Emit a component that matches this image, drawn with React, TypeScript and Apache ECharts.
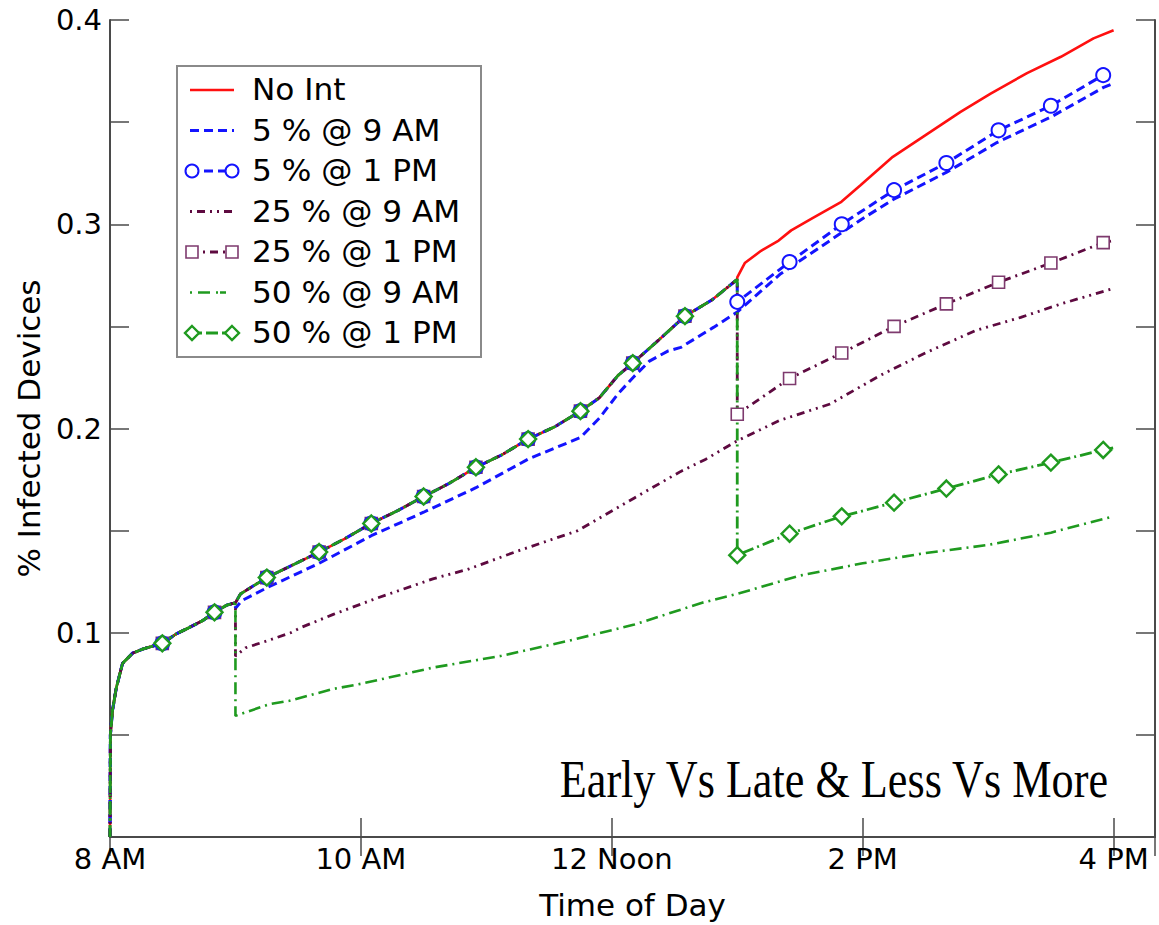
import React, { useEffect, useRef } from 'react';
import * as echarts from 'echarts';

// ---------- axis ticks ----------
const xTickValues = [8, 10, 12, 14, 16];
const xTickLabels = ['8 AM', '10 AM', '12 Noon', '2 PM', '4 PM'];
const yTickValues = [0.1, 0.2, 0.3, 0.4];
const yTickLabels = ['0.1', '0.2', '0.3', '0.4'];

const seriesNames = ['No Int', '5 % @ 9 AM', '5 % @ 1 PM', '25 % @ 9 AM', '25 % @ 1 PM', '50 % @ 9 AM', '50 % @ 1 PM'];

// ---------- data (hours of day, fraction infected) ----------
// shared trajectory before any intervention (8 AM -> 1 PM)
const commonTimes = [8.0, 8.003, 8.02, 8.05, 8.1, 8.18, 8.26, 8.37, 8.417, 8.53, 8.63, 8.74, 8.833, 8.93, 9.0, 9.04, 9.25, 9.45, 9.667, 9.87, 10.083, 10.3, 10.5, 10.7, 10.917, 11.12, 11.333, 11.55, 11.75, 11.9, 12.05, 12.167, 12.35, 12.583, 12.8, 13.0];
const commonValues = [0, 0.05, 0.062, 0.073, 0.085, 0.09, 0.092, 0.094, 0.0948, 0.0995, 0.1025, 0.106, 0.11, 0.1135, 0.1147, 0.119, 0.127, 0.133, 0.1395, 0.146, 0.1535, 0.16, 0.1667, 0.173, 0.181, 0.187, 0.1948, 0.201, 0.2085, 0.215, 0.226, 0.232, 0.242, 0.255, 0.263, 0.273];

// No intervention, after 1 PM
const noIntTimes = [13.0, 13.06, 13.19, 13.33, 13.43, 13.6, 13.83, 13.98, 14.24, 14.51, 14.78, 15.02, 15.31, 15.58, 15.84, 16.0];
const noIntValues = [0.274, 0.281, 0.287, 0.292, 0.297, 0.303, 0.311, 0.319, 0.333, 0.344, 0.355, 0.364, 0.374, 0.382, 0.391, 0.395];

// 5 % @ 9 AM, from 9 AM
const fiveNineTimes = [9.0, 9.05, 9.25, 9.667, 10.083, 10.5, 10.917, 11.333, 11.75, 11.9, 12.05, 12.17, 12.3, 12.45, 12.55, 12.81, 13.0, 13.34, 13.98, 14.24, 14.67, 15.07, 15.5, 15.92, 16.0];
const fiveNineValues = [0.112, 0.1157, 0.122, 0.134, 0.1475, 0.159, 0.171, 0.185, 0.1956, 0.205, 0.217, 0.225, 0.233, 0.238, 0.2397, 0.2495, 0.257, 0.2755, 0.302, 0.312, 0.3255, 0.34, 0.3525, 0.367, 0.369];

// 5 % @ 1 PM, from 1 PM
const fiveOneTimes = [13.0, 13.417, 13.833, 14.25, 14.667, 15.083, 15.5, 15.917, 16.0];
const fiveOneValues = [0.262, 0.2815, 0.3, 0.3167, 0.33, 0.346, 0.358, 0.373, 0.374];

// 25 % @ 9 AM, from 9 AM
const quarterNineTimes = [9.0, 9.08, 9.25, 9.44, 9.52, 9.78, 10.13, 10.58, 10.85, 11.25, 11.73, 12.18, 12.45, 12.55, 12.75, 13.0, 13.34, 13.74, 14.14, 14.5, 14.9, 15.26, 15.58, 16.0];
const quarterNineValues = [0.0885, 0.0926, 0.096, 0.1, 0.1025, 0.109, 0.117, 0.1265, 0.131, 0.14, 0.15, 0.166, 0.1755, 0.179, 0.185, 0.194, 0.204, 0.212, 0.226, 0.237, 0.248, 0.2544, 0.261, 0.2686];

// 25 % @ 1 PM, from 1 PM
const quarterOneTimes = [13.0, 13.417, 13.833, 14.25, 14.667, 15.083, 15.5, 15.917, 16.0];
const quarterOneValues = [0.207, 0.2245, 0.237, 0.25, 0.261, 0.2716, 0.281, 0.291, 0.292];

// 50 % @ 9 AM, from 9 AM
const halfNineTimes = [9.0, 9.08, 9.27, 9.43, 9.78, 10.0, 10.58, 11.12, 11.65, 12.18, 12.72, 13.0, 13.5, 14.0, 14.5, 15.0, 15.5, 16.0];
const halfNineValues = [0.0593, 0.061, 0.065, 0.0667, 0.0725, 0.075, 0.083, 0.0887, 0.096, 0.104, 0.1147, 0.119, 0.128, 0.134, 0.139, 0.143, 0.149, 0.157];

// 50 % @ 1 PM, from 1 PM
const halfOneTimes = [13.0, 13.417, 13.833, 14.25, 14.667, 15.083, 15.5, 15.917, 16.0];
const halfOneValues = [0.138, 0.1485, 0.157, 0.1637, 0.1706, 0.1775, 0.1833, 0.1895, 0.1905];

// marker times (every 25 minutes)
const markerTimes = [8.417, 8.833, 9.25, 9.667, 10.083, 10.5, 10.917, 11.333, 11.75, 12.167, 12.583, 13.0, 13.417, 13.833, 14.25, 14.667, 15.083, 15.5, 15.917];

// ---------- helpers ----------
const zip = (t: number[], v: number[]) => t.map((x, i) => [x, v[i]]);
const common = zip(commonTimes, commonValues);
const commonUntil9 = common.filter((p) => p[0] <= 9.0 + 1e-9);

const dataSets: number[][][] = [
  [...common, ...zip(noIntTimes, noIntValues)],
  [...commonUntil9, ...zip(fiveNineTimes, fiveNineValues)],
  [...common, ...zip(fiveOneTimes, fiveOneValues)],
  [...commonUntil9, ...zip(quarterNineTimes, quarterNineValues)],
  [...common, ...zip(quarterOneTimes, quarterOneValues)],
  [...commonUntil9, ...zip(halfNineTimes, halfNineValues)],
  [...common, ...zip(halfOneTimes, halfOneValues)],
];

function pickMarkers(data: number[][]) {
  const out: number[][] = [];
  markerTimes.forEach((mt) => {
    let found: number[] | null = null;
    data.forEach((p) => {
      if (Math.abs(p[0] - mt) < 0.005) found = p;
    });
    if (found) out.push(found);
  });
  return out;
}

const RED = '#ff1010';
const BLUE = '#1414ff';
const PURPLE = '#5e0a40';
const PURPLE_MK = '#7e3a6e';
const GREEN = '#1f9a1f';

const styles = [
  { color: RED, width: 2.6, type: 'solid' as any },
  { color: BLUE, width: 3, type: [9, 5] as any },
  { color: BLUE, width: 3, type: [9, 5] as any },
  { color: PURPLE, width: 2.8, type: [8, 5, 2, 5, 2, 5] as any },
  { color: PURPLE, width: 2.8, type: [8, 5, 2, 5] as any },
  { color: GREEN, width: 2.6, type: [12, 5, 2, 5] as any },
  { color: GREEN, width: 2.8, type: [12, 4, 2, 4] as any },
];

const markerDefs: Record<number, { symbol: string; size: number; color: string; bw: number; z: number }> = {
  2: { symbol: 'circle', size: 14, color: BLUE, bw: 2, z: 11 },
  4: { symbol: 'rect', size: 12, color: PURPLE_MK, bw: 1.6, z: 10 },
  6: { symbol: 'diamond', size: 16, color: GREEN, bw: 2.4, z: 12 },
};

const FONT = 'DejaVu Sans';

function buildOption() {
  const series: any[] = [];
  dataSets.forEach((d, i) => {
    series.push({
      type: 'line',
      name: seriesNames[i],
      data: d,
      showSymbol: false,
      symbol: 'none',
      lineStyle: { color: styles[i].color, width: styles[i].width, type: styles[i].type },
      z: 2 + i * 0.1,
      silent: true,
    });
  });
  Object.keys(markerDefs).forEach((k) => {
    const i = Number(k);
    const m = markerDefs[i];
    series.push({
      type: 'scatter',
      name: seriesNames[i] + ' markers',
      data: pickMarkers(dataSets[i]),
      symbol: m.symbol,
      symbolSize: m.size,
      itemStyle: { color: '#ffffff', borderColor: m.color, borderWidth: m.bw, opacity: 1 },
      z: m.z,
      silent: true,
    });
  });

  const xFmt = (v: number) => {
    const i = xTickValues.findIndex((t) => Math.abs(t - v) < 1e-6);
    return i >= 0 ? xTickLabels[i] : '';
  };
  const yFmt = (v: number) => {
    const i = yTickValues.findIndex((t) => Math.abs(t - v) < 1e-6);
    return i >= 0 ? yTickLabels[i] : '';
  };

  const axisLine = { show: true, lineStyle: { color: '#4a4a4a', width: 2 } };
  const axisTick = { show: true, inside: true, length: 19, lineStyle: { color: '#4a4a4a', width: 1.5 } };

  // legend graphics
  const legendChildren: any[] = [
    {
      type: 'rect',
      shape: { x: 177, y: 66, width: 304, height: 291 },
      style: { fill: '#ffffff', stroke: '#8a8a8a', lineWidth: 2 },
    },
  ];
  const legendDash: any[] = [null, [9, 5], [9, 5], [2, 5, 8, 5, 2, 5], [8, 5, 2, 5], [2, 6, 12, 6, 2], [12, 4]];
  seriesNames.forEach((name, i) => {
    const y = 90 + i * 40.5;
    legendChildren.push({
      type: 'line',
      shape: { x1: 190, y1: y, x2: 234, y2: y },
      style: { stroke: styles[i].color, lineWidth: styles[i].width, lineDash: legendDash[i] || undefined },
    });
    const m = markerDefs[i];
    if (m) {
      [192, 232].forEach((cx) => {
        if (m.symbol === 'circle') {
          legendChildren.push({ type: 'circle', shape: { cx, cy: y, r: 6.5 }, style: { fill: '#fff', stroke: m.color, lineWidth: m.bw } });
        } else if (m.symbol === 'rect') {
          legendChildren.push({ type: 'rect', shape: { x: cx - 6, y: y - 6, width: 12, height: 12 }, style: { fill: '#fff', stroke: m.color, lineWidth: m.bw } });
        } else {
          legendChildren.push({
            type: 'polygon',
            shape: { points: [[cx, y - 7], [cx + 7, y], [cx, y + 7], [cx - 7, y]] },
            style: { fill: '#fff', stroke: m.color, lineWidth: m.bw },
          });
        }
      });
    }
    legendChildren.push({
      type: 'text',
      x: 252,
      y,
      scaleX: 1.04,
      style: { text: name, x: 0, y: 0, fill: '#000', fontSize: 30, fontFamily: FONT, verticalAlign: 'middle', align: 'left' },
    });
  });

  return {
    animation: false,
    backgroundColor: '#ffffff',
    grid: { left: 110, right: 4, top: 20, bottom: 88, containLabel: false },
    xAxis: [
      {
        type: 'value',
        position: 'bottom',
        min: 8,
        max: 16.33,
        interval: 2,
        splitLine: { show: false },
        axisLine,
        axisTick,
        axisLabel: { formatter: xFmt, fontSize: 29, fontFamily: FONT, color: '#000', margin: 7, showMaxLabel: false },
        name: 'Time of Day',
        nameLocation: 'middle',
        nameGap: 52,
        nameTextStyle: { fontSize: 31, fontFamily: FONT, color: '#000' },
      },
      {
        type: 'value',
        position: 'top',
        min: 8,
        max: 16.33,
        interval: 2,
        splitLine: { show: false },
        axisLine,
        axisTick,
        axisLabel: { show: false },
      },
    ],
    yAxis: [
      {
        type: 'value',
        position: 'left',
        min: 0,
        max: 0.4,
        interval: 0.05,
        splitLine: { show: false },
        axisLine,
        axisTick,
        axisLabel: { formatter: yFmt, fontSize: 29, fontFamily: FONT, color: '#000', margin: 8 },
        name: '% Infected Devices',
        nameLocation: 'middle',
        nameGap: 64,
        nameTextStyle: { fontSize: 31, fontFamily: FONT, color: '#000' },
      },
      {
        type: 'value',
        position: 'right',
        min: 0,
        max: 0.4,
        interval: 0.05,
        splitLine: { show: false },
        axisLine,
        axisTick,
        axisLabel: { show: false },
      },
    ],
    series,
    graphic: [
      { type: 'group', z: 100, children: legendChildren },
      {
        type: 'text',
        z: 100,
        x: 1108,
        y: 779,
        scaleX: 0.85,
        style: {
          text: 'Early Vs Late & Less Vs More',
          x: 0,
          y: 0,
          fill: '#000',
          fontSize: 52,
          fontFamily: 'Liberation Serif',
          align: 'right',
          verticalAlign: 'middle',
        },
      },
    ],
  };
}

export default function App() {
  const ref = useRef<HTMLDivElement>(null);
  useEffect(() => {
    if (!ref.current) return;
    const chart = echarts.init(ref.current, null, { renderer: 'svg' });
    chart.setOption(buildOption() as any);
    return () => chart.dispose();
  }, []);
  return (
    <div
      ref={ref}
      style={{ position: 'absolute', left: 0, top: 0, width: 1159, height: 925, background: '#fff' }}
    />
  );
}
